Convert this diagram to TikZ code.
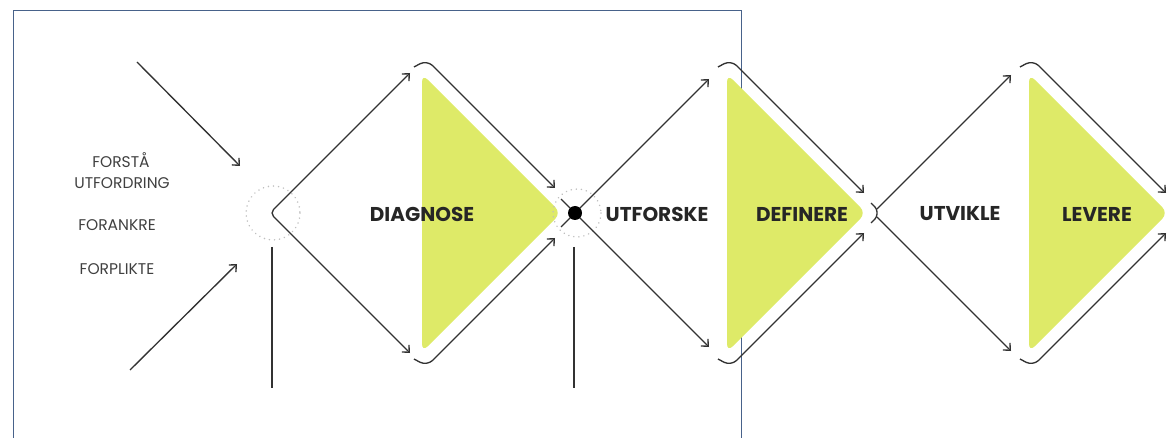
\documentclass[tikz,border=0pt]{standalone}
\usepackage{fontspec}
\setmainfont{Poppins}
\usetikzlibrary{arrows.meta}
\definecolor{lime}{RGB}{222,234,104}
\definecolor{ink}{RGB}{50,50,50}
\definecolor{frameblue}{RGB}{72,98,138}

\begin{document}
\begin{tikzpicture}[x=1pt,y=-1pt,
	line/.style={draw=ink, line width=1.35pt},
	flow/.style={line, -{Straight Barb[length=5.5pt,width=10pt]}},
	dots/.style={draw=gray!50, dash pattern=on 0.1pt off 5pt, line cap=round, line width=1.6pt},
	phase/.style={font=\fontsize{20}{22}\selectfont\bfseries, text=black!85},
	goal/.style={font=\fontsize{15.5}{18}\selectfont, text=black!75}]

		\useasboundingbox (0,0) rectangle (1169,438);
		% the frame
		\draw [frameblue, line width=1pt] (13,445) -- (13,11) -- (741,11) -- (741,445);

		% the yellow halves
		\foreach \tx in {422,727,1029}
			\fill [lime, rounded corners=8pt] (\tx,74) -- (\tx+139,213) -- (\tx,352) -- cycle;

		% the goals on the left
		\node[goal] (forsta) at (121,160) {FORSTÅ};
		\node[goal] (utford) at (122,183) {UTFORDRING};
		\node[goal] (forank) at (117,225) {FORANKRE};
		\node[goal] (forpl) at (117,269) {FORPLIKTE};
		\draw [flow] (137,62) -- (240,166);
		\draw [flow] (130,370) -- (237,264);

		% first diamond
		\draw [dots] (273,213) circle (27);
		\draw [line, rounded corners=5pt, {Straight Barb[length=5.5pt,width=10pt]}-{Straight Barb[length=5.5pt,width=10pt]}]
			(410,73) -- (270,213) -- (410,353);
		\draw [flow, rounded corners=8pt] (414,67) -- (427,60) -- (555,188);
		\draw [flow, rounded corners=8pt] (414,359) -- (427,366) -- (555,238);
		\draw [line] (272,247) -- (272,388);

		% second diamond
		\draw [dots] (577,213) circle (24);
		\draw [flow] (561,227) -- (709,79);
		\draw [flow] (561,199) -- (709,347);
		\fill [black] (575,213) circle (7);
		\draw [flow, rounded corners=8pt] (718,67) -- (731,60) -- (864,193);
		\draw [flow, rounded corners=8pt] (718,359) -- (731,366) -- (864,233);
		\draw [line] (574,247) -- (574,388);

		% third diamond
		\draw [line, rounded corners=3pt] (871,203) -- (877,209) -- (877,217) -- (871,223);
		\draw [flow] (877,209) -- (1011,75);
		\draw [flow] (877,217) -- (1011,351);
		\draw [flow, rounded corners=8pt] (1020,67) -- (1033,60) -- (1166,193);
		\draw [flow, rounded corners=8pt] (1020,359) -- (1033,366) -- (1166,233);

		% the phases
		\node[phase] (diag) at (422,214) {DIAGNOSE};
		\node[phase] (utfor) at (657,214) {UTFORSKE};
		\node[phase] (defin) at (802,214) {DEFINERE};
		\node[phase] (utvik) at (960,214) {UTVIKLE};
		\node[phase] (lever) at (1097,214) {LEVERE};
\end{tikzpicture}
\end{document}
